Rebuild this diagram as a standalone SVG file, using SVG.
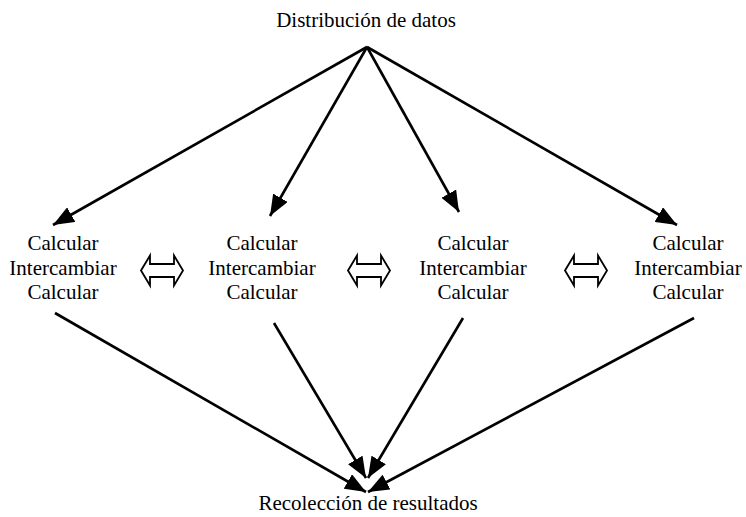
<svg xmlns="http://www.w3.org/2000/svg" width="746" height="517" viewBox="0 0 746 517" font-family="'Liberation Serif', 'Times New Roman', serif">
<defs>
<style>
text{font-family:'Liberation Serif','Times New Roman',serif;font-size:21px;fill:#000;text-anchor:middle}
.c{stroke:#000;stroke-width:2.6;fill:none}
.d{fill:#fff;stroke:#000;stroke-width:1.8;stroke-linejoin:miter}
</style>
<marker id="ah" viewBox="0 0 10 8" refX="10" refY="4" markerUnits="userSpaceOnUse" markerWidth="21" markerHeight="16.8" orient="auto">
<path d="M0,0 L10,4 L0,8 Z" fill="#000"/>
</marker>
<path id="dbl" d="M-21,0 L-12,-15 L-12,-6.5 L12,-6.5 L12,-15 L21,0 L12,15 L12,6.5 L-12,6.5 L-12,15 Z"/>
</defs>
<rect width="746" height="517" fill="#fff"/>
<g id="top"><text x="366" y="27">Distribución de datos</text></g>
<g id="bottom"><text x="368" y="510">Recolección de resultados</text></g>
<g id="n1"><text x="63" y="250">Calcular</text><text x="63" y="274.5">Intercambiar</text><text x="63" y="299">Calcular</text></g>
<g id="n2"><text x="262" y="250">Calcular</text><text x="262" y="274.5">Intercambiar</text><text x="262" y="299">Calcular</text></g>
<g id="n3"><text x="473" y="250">Calcular</text><text x="473" y="274.5">Intercambiar</text><text x="473" y="299">Calcular</text></g>
<g id="n4"><text x="688" y="250">Calcular</text><text x="688" y="274.5">Intercambiar</text><text x="688" y="299">Calcular</text></g>
<g id="connectors">
<line class="c" x1="367" y1="47" x2="53" y2="225" marker-end="url(#ah)"/>
<line class="c" x1="367" y1="47" x2="270" y2="216" marker-end="url(#ah)"/>
<line class="c" x1="367" y1="47" x2="459" y2="212" marker-end="url(#ah)"/>
<line class="c" x1="367" y1="47" x2="677" y2="225" marker-end="url(#ah)"/>
<line class="c" x1="55" y1="313" x2="366" y2="492" marker-end="url(#ah)"/>
<line class="c" x1="274" y1="323" x2="366" y2="478" marker-end="url(#ah)"/>
<line class="c" x1="463" y1="318" x2="368" y2="478" marker-end="url(#ah)"/>
<line class="c" x1="694" y1="318" x2="368" y2="492" marker-end="url(#ah)"/>
<use href="#dbl" class="d" x="162" y="270.5"/>
<use href="#dbl" class="d" x="369" y="270.5"/>
<use href="#dbl" class="d" x="586" y="270.5"/>
</g>
</svg>
